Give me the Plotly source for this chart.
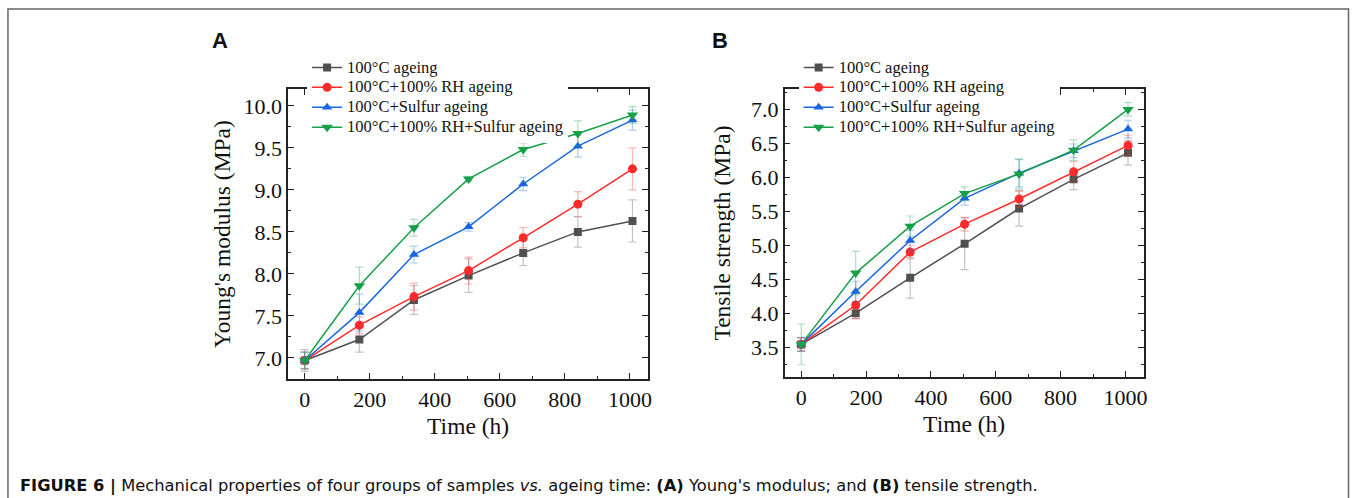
import plotly.graph_objects as go

W, H = 1354, 498

# ageing time (h)
time_h = [0, 168, 336, 504, 672, 840, 1008]

series = ["100°C ageing", "100°C+100% RH ageing", "100°C+Sulfur ageing", "100°C+100% RH+Sulfur ageing"]

# (A) Young's modulus (MPa)
ym_100c = [6.97, 7.22, 7.69, 7.98, 8.25, 8.50, 8.63]
ym_100c_err = [0.13, 0.15, 0.17, 0.20, 0.15, 0.18, 0.25]
ym_rh = [6.97, 7.39, 7.73, 8.04, 8.43, 8.83, 9.25]
ym_rh_err = [0.10, 0.10, 0.16, 0.16, 0.12, 0.15, 0.25]
ym_s = [6.97, 7.54, 8.23, 8.56, 9.07, 9.52, 9.83]
ym_s_err = [0.10, 0.22, 0.10, 0.05, 0.08, 0.13, 0.12]
ym_rhs = [6.97, 7.86, 8.55, 9.13, 9.48, 9.67, 9.89]
ym_rhs_err = [0.10, 0.22, 0.10, 0.03, 0.08, 0.15, 0.10]

# (B) Tensile strength (MPa)
ts_100c = [3.54, 4.00, 4.52, 5.02, 5.54, 5.97, 6.36]
ts_100c_err = [0.10, 0.08, 0.30, 0.38, 0.26, 0.15, 0.18]
ts_rh = [3.54, 4.12, 4.90, 5.31, 5.68, 6.08, 6.47]
ts_rh_err = [0.10, 0.20, 0.10, 0.10, 0.12, 0.15, 0.15]
ts_s = [3.54, 4.32, 5.07, 5.69, 6.06, 6.39, 6.71]
ts_s_err = [0.10, 0.15, 0.15, 0.10, 0.20, 0.10, 0.13]
ts_rhs = [3.54, 4.59, 5.28, 5.76, 6.05, 6.40, 7.00]
ts_rhs_err = [0.30, 0.32, 0.15, 0.10, 0.22, 0.15, 0.10]

colors = ["#505050", "#FF2A2A", "#1A66E0", "#18A048"]
err_colors = ["rgba(80,80,80,0.35)", "rgba(255,42,42,0.35)", "rgba(26,102,224,0.35)", "rgba(24,160,72,0.35)"]
symbols = ["square", "circle", "triangle-up", "triangle-down"]
sizes = [8, 9, 9, 10]

fig = go.Figure()

panels = [
    ([ym_100c, ym_rh, ym_s, ym_rhs], [ym_100c_err, ym_rh_err, ym_s_err, ym_rhs_err], "x", "y", "legend"),
    ([ts_100c, ts_rh, ts_s, ts_rhs], [ts_100c_err, ts_rh_err, ts_s_err, ts_rhs_err], "x2", "y2", "legend2"),
]
for vals, errs, xa, ya, lg in panels:
    for i in range(4):
        fig.add_trace(go.Scatter(
            x=time_h, y=vals[i],
            # legend font is kept small so the rows sit 20px apart
            name='<span style="font-size:16.5px">' + series[i] + '</span>',
            mode="lines+markers",
            line=dict(color=colors[i], width=1.5),
            marker=dict(symbol=symbols[i], size=sizes[i], color=colors[i]),
            error_y=dict(type="data", array=errs[i], color=err_colors[i], thickness=1.2, width=4),
            xaxis=xa, yaxis=ya, legend=lg,
        ))

serif = "Liberation Serif"
axis_common = dict(
    showline=True, linecolor="#222", linewidth=1.5, mirror="ticks",
    ticks="inside", ticklen=6, tickwidth=1.2, tickcolor="#222",
    showgrid=False, zeroline=False,
    tickfont=dict(family=serif, size=22, color="#111"),
    title_font=dict(family=serif, size=23.5, color="#111"),
)
minor_x = dict(ticks="inside", ticklen=3, tickcolor="#222", dtick=100, tick0=0)
minor_y = dict(ticks="inside", ticklen=3, tickcolor="#222", dtick=0.25, tick0=0)

def px_x(p):
    return p / W

def px_y(p):
    return 1 - p / H

fig.update_layout(
    width=W, height=H, margin=dict(l=0, r=0, t=0, b=0),
    plot_bgcolor="white", paper_bgcolor="white",
    xaxis=dict(domain=[px_x(289), px_x(650)], range=[-51, 1056], anchor="y",
               tickvals=[0, 200, 400, 600, 800, 1000], title_text="Time (h)", title_standoff=6,
               minor=minor_x, **axis_common),
    yaxis=dict(domain=[px_y(379), px_y(89)], range=[6.75, 10.2], anchor="x",
               tickvals=[7.0, 7.5, 8.0, 8.5, 9.0, 9.5, 10.0], tickformat=".1f",
               title_text="Young's modulus (MPa)", title_standoff=6,
               minor=minor_y, **axis_common),
    xaxis2=dict(domain=[px_x(787), px_x(1147)], range=[-51, 1056], anchor="y2",
                tickvals=[0, 200, 400, 600, 800, 1000], title_text="Time (h)", title_standoff=6,
                minor=minor_x, **axis_common),
    yaxis2=dict(domain=[px_y(377), px_y(89)], range=[3.06, 7.3], anchor="x2",
                tickvals=[3.5, 4.0, 4.5, 5.0, 5.5, 6.0, 6.5, 7.0], tickformat=".1f",
                title_text="Tensile strength (MPa)", title_standoff=14,
                minor=minor_y, **axis_common),
    legend=dict(x=px_x(308), y=px_y(52.5), xanchor="left", yanchor="top",
                bgcolor="white", font=dict(family=serif, size=13, color="#111"),
                tracegroupgap=0, itemwidth=30, borderwidth=0),
    legend2=dict(x=px_x(801), y=px_y(52.5), xanchor="left", yanchor="top",
                 bgcolor="white", font=dict(family=serif, size=13, color="#111"),
                 tracegroupgap=0, itemwidth=30, borderwidth=0),
    showlegend=True,
)

fig.add_annotation(text="<b>A</b>", x=px_x(221), y=px_y(40), xref="paper", yref="paper",
                   showarrow=False, xanchor="center", yanchor="middle",
                   font=dict(family="Liberation Sans", size=22, color="#111"))
fig.add_annotation(text="<b>B</b>", x=px_x(722), y=px_y(40), xref="paper", yref="paper",
                   showarrow=False, xanchor="center", yanchor="middle",
                   font=dict(family="Liberation Sans", size=22, color="#111"))

fig.add_annotation(
    text="<b>FIGURE 6 |</b> Mechanical properties of four groups of samples <i>vs.</i> ageing time: "
         "<b>(A)</b> Young's modulus; and <b>(B)</b> tensile strength.",
    x=px_x(18), y=px_y(486), xref="paper", yref="paper", showarrow=False,
    xanchor="left", yanchor="middle",
    font=dict(family="DejaVu Sans", size=16.3, color="#111"))

# figure frame
fig.add_shape(type="rect", xref="paper", yref="paper",
              x0=px_x(8), x1=px_x(1352.5), y0=-0.05, y1=px_y(9),
              line=dict(color="#666", width=1.5), fillcolor="rgba(0,0,0,0)")

# drop the page's default body margin so the figure fills the window exactly
fig.write_html("out.html", config={"displayModeBar": False},
               post_script="document.body.style.margin='0';")
